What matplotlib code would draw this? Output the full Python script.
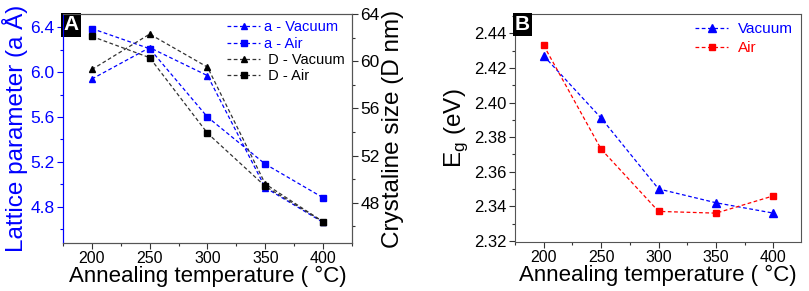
import matplotlib
matplotlib.use("Agg")
import matplotlib.pyplot as plt
from matplotlib.ticker import MultipleLocator, FormatStrFormatter

plt.rcParams['font.family'] = ['Liberation Sans', 'DejaVu Sans']

temps = [200, 250, 300, 350, 400]
a_vacuum = [5.94, 6.22, 5.97, 4.97, 4.66]
a_air = [6.39, 6.21, 5.60, 5.18, 4.88]
d_vacuum = [59.3, 62.3, 59.5, 49.6, 46.4]
d_air = [62.1, 60.3, 53.9, 49.4, 46.4]
eg_vacuum = [2.427, 2.391, 2.350, 2.342, 2.336]
eg_air = [2.433, 2.373, 2.337, 2.336, 2.346]

BLUE = '#0000ff'
RED = '#ff0000'
BLACK = '#000000'
SPINE = '#555555'

fig = plt.figure(figsize=(8.09, 2.91), dpi=100)
W, H = 809, 291
axA = fig.add_axes([63 / W, 1 - 243 / H, (352 - 63) / W, (243 - 14) / H])
axB = fig.add_axes([515 / W, 1 - 242 / H, (801 - 515) / W, (242 - 14) / H])

lw = 0.9
ms = 4.8
dash = (3, 2)
lA1, = axA.plot(temps, a_vacuum, '--', color=BLUE, lw=lw, marker='^', ms=ms, label='a - Vacuum', dashes=dash)
lA2, = axA.plot(temps, a_air, '--', color=BLUE, lw=lw, marker='s', ms=ms - 0.8, label='a - Air', dashes=dash)
axA2 = axA.twinx()
lD1, = axA2.plot(temps, d_vacuum, '--', color='#333333', lw=lw, marker='^', ms=ms, mfc=BLACK, mec=BLACK, label=' D - Vacuum', dashes=dash)
lD2, = axA2.plot(temps, d_air, '--', color='#333333', lw=lw, marker='s', ms=ms - 0.8, mfc=BLACK, mec=BLACK, label=' D - Air', dashes=dash)

axA.set_xlim(175, 425)
axA.set_ylim(4.476, 6.52)
axA2.set_ylim(44.6, 64)
axA.set_xticks(temps)
axA.xaxis.set_minor_locator(MultipleLocator(25))
axA.yaxis.set_major_locator(MultipleLocator(0.4))
axA.yaxis.set_minor_locator(MultipleLocator(0.2))
axA2.set_yticks([48, 52, 56, 60, 64])
axA2.yaxis.set_minor_locator(MultipleLocator(2))

for ax in (axA, axA2, axB):
    ax.tick_params(which='major', direction='out', length=4, width=0.8, labelsize=12, colors='#333333', labelcolor='black', pad=2)
    ax.tick_params(which='minor', direction='out', length=2.5, width=0.8, colors='#333333')
    ax.tick_params(axis='x', labelsize=11.5)
    for s in ax.spines.values():
        s.set_color(SPINE)
        s.set_linewidth(0.8)

axA.tick_params(axis='y', which='both', colors=BLUE, labelcolor=BLUE, labelsize=12.5)
axA2.tick_params(axis='y', labelsize=12.5)
axA.spines['left'].set_color(BLUE)
axA2.spines['left'].set_color(BLUE)
axA.yaxis.set_major_formatter(FormatStrFormatter('%.1f'))

axA.set_xlabel('Annealing temperature ( °C)', fontsize=16, labelpad=0)
axA.set_ylabel('Lattice parameter (a Å)', fontsize=17.5, color=BLUE, labelpad=2)
axA2.set_ylabel('Crystaline size (D nm)', fontsize=17.5, color='black', labelpad=2)

leg = axA.legend(handles=[lA1, lA2, lD1, lD2], loc='upper right', bbox_to_anchor=(1.005, 1.01),
                 frameon=False, fontsize=10.5, handlelength=2.2, handletextpad=0.3,
                 labelspacing=0.15, borderaxespad=0.2)
for t, c in zip(leg.get_texts(), [BLUE, BLUE, BLACK, BLACK]):
    t.set_color(c)

axA.text(0.0, 0.995, 'A', transform=axA.transAxes, ha='left', va='top', fontsize=15,
         fontweight='bold', color='white',
         bbox=dict(boxstyle='square,pad=0.12', fc='black', ec='none'))

# Panel B
lB1, = axB.plot(temps, eg_vacuum, '--', color=BLUE, lw=lw, marker='^', ms=ms + 0.5, label='Vacuum', dashes=dash)
lB2, = axB.plot(temps, eg_air, '--', color=RED, lw=lw, marker='s', ms=ms - 0.3, label='Air', dashes=dash)
axB.set_xlim(175, 424)
axB.set_ylim(2.3193, 2.4512)
axB.set_xticks(temps)
axB.xaxis.set_minor_locator(MultipleLocator(25))
axB.yaxis.set_major_locator(MultipleLocator(0.02))
axB.yaxis.set_minor_locator(MultipleLocator(0.01))
axB.yaxis.set_major_formatter(FormatStrFormatter('%.2f'))
axB.set_xlabel('Annealing temperature ( °C)', fontsize=16, labelpad=0)
axB.set_ylabel('E$_\\mathregular{g}$ (eV)', fontsize=17.5, labelpad=3)

legB = axB.legend(handles=[lB1, lB2], loc='upper right', bbox_to_anchor=(1.0, 1.0),
                  frameon=False, fontsize=11, handlelength=2.2, handletextpad=0.6,
                  labelspacing=0.3, borderaxespad=0.15)
for t, c in zip(legB.get_texts(), [BLUE, RED]):
    t.set_color(c)

axB.text(0.0, 0.995, 'B', transform=axB.transAxes, ha='left', va='top', fontsize=15,
         fontweight='bold', color='white',
         bbox=dict(boxstyle='square,pad=0.1', fc='black', ec='none'))

fig.savefig('out.png', dpi=100)
